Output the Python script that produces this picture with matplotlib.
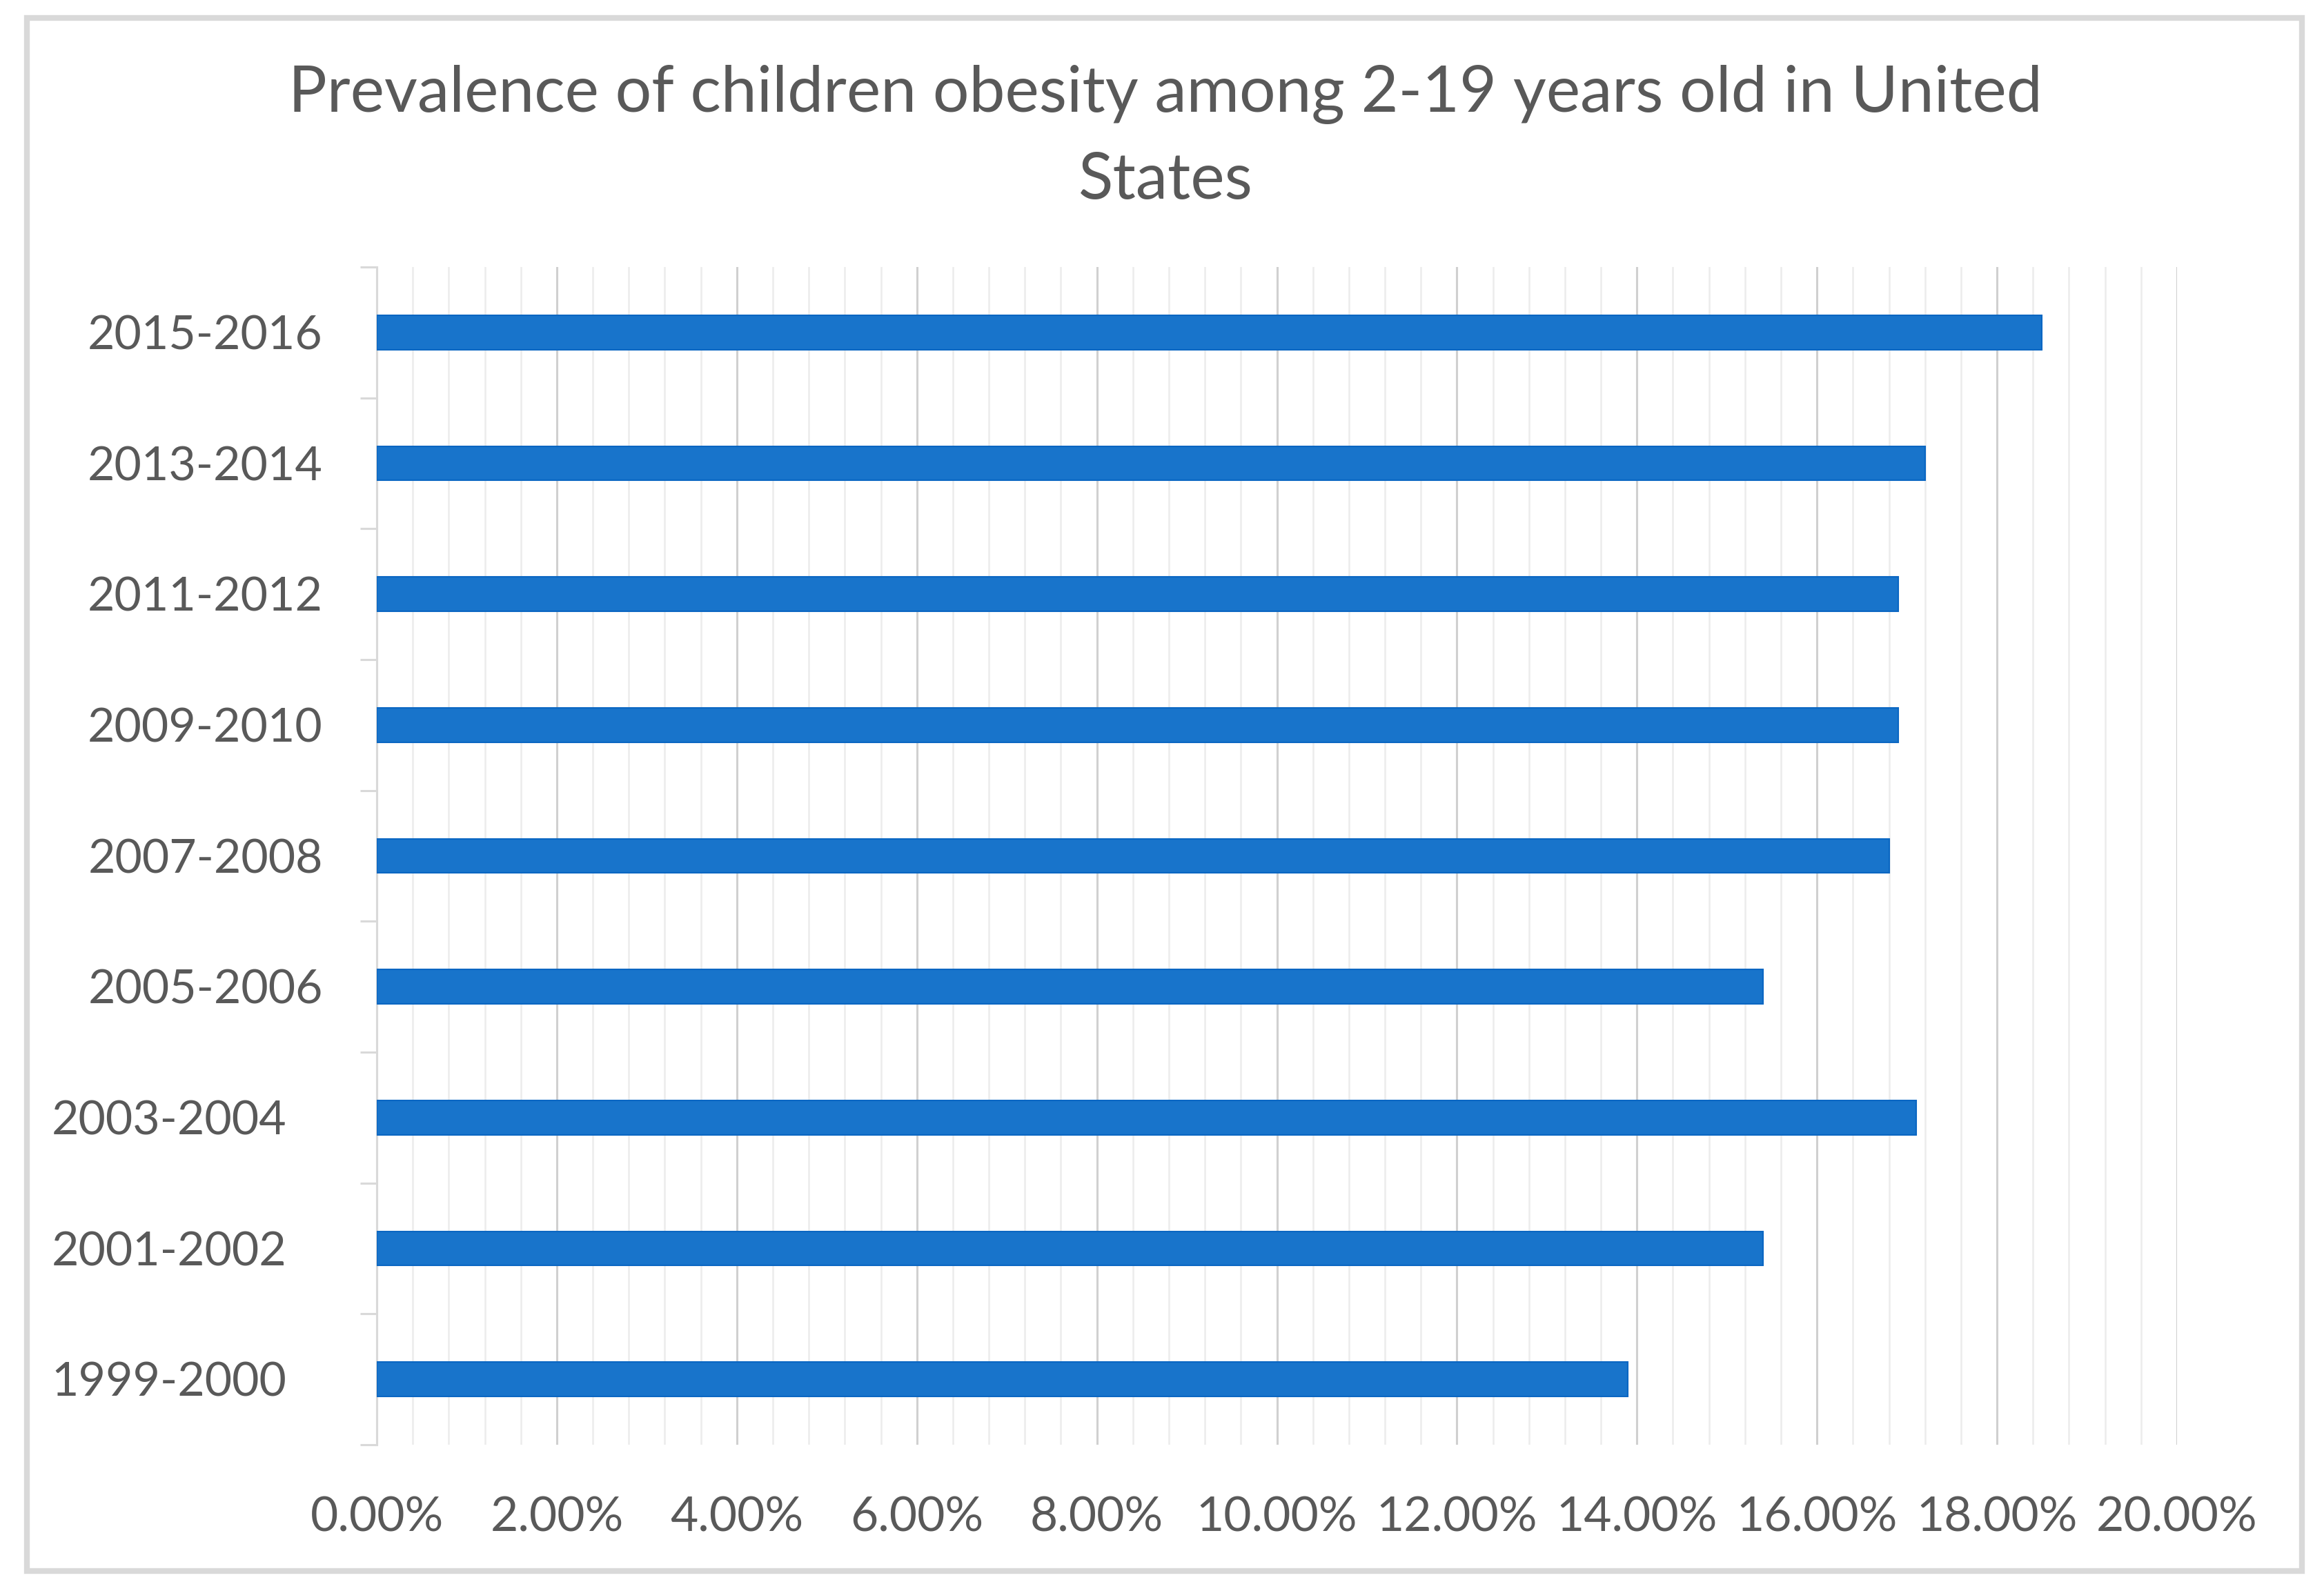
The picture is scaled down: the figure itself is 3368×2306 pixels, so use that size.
import matplotlib
matplotlib.use("Agg")
import matplotlib.pyplot as plt
from matplotlib.patches import Rectangle
from matplotlib.ticker import MultipleLocator, FuncFormatter

plt.rcParams['font.family'] = ['Lato', 'DejaVu Sans']

categories = ["1999-2000", "2001-2002", "2003-2004", "2005-2006", "2007-2008",
              "2009-2010", "2011-2012", "2013-2014", "2015-2016"]
values = [13.9, 15.4, 17.1, 15.4, 16.8, 16.9, 16.9, 17.2, 18.5]
label_shift = [1, 1, 1, 0, 0, 0, 0, 0, 0]
title = "Prevalence of children obesity among 2-19 years old in United\nStates"

TXT = '#595959'
W, H = 3368, 2306
dpi = 100
fig = plt.figure(figsize=(W / dpi, H / dpi), dpi=dpi)
fig.patch.set_facecolor('white')

# outer chart frame
fig.patches.append(Rectangle((39 / W, 1 - 2277 / H), (3336 - 39) / W, (2277 - 26) / H,
                             transform=fig.transFigure, fill=False,
                             edgecolor='#d9d9d9', linewidth=6))

ax = fig.add_axes([546 / W, 1 - 2094 / H, (3155 - 546) / W, (2094 - 387) / H])
ypos = list(range(len(categories)))
ax.barh(ypos, values, height=0.263, color='#1874CB', edgecolor='#0A66C2',
        linewidth=1.5, zorder=3)

ax.set_xlim(0, 20)
ax.set_ylim(-0.5, len(categories) - 0.5)

ax.xaxis.set_major_locator(MultipleLocator(2))
ax.xaxis.set_minor_locator(MultipleLocator(0.4))
ax.xaxis.set_major_formatter(FuncFormatter(lambda v, p: f"{v:.2f}%"))
ax.grid(axis='x', which='major', color='#d0d0d0', linewidth=2.2, zorder=0)
ax.grid(axis='x', which='minor', color='#ececec', linewidth=1.8, zorder=0)
ax.tick_params(axis='x', which='both', length=0, pad=54, labelsize=50, labelcolor=TXT)

for s in ['top', 'right', 'bottom']:
    ax.spines[s].set_visible(False)
ax.spines['left'].set_color('#d9d9d9')
ax.spines['left'].set_linewidth(2.2)

ax.set_yticks(ypos)
ax.set_yticklabels([])
ax.tick_params(axis='y', which='major', length=0)
ax.set_yticks([i - 0.5 for i in range(len(categories) + 1)], minor=True)
ax.tick_params(axis='y', which='minor', length=17, width=2.2, color='#d9d9d9',
               direction='out')

for i, (c, sh) in enumerate(zip(categories, label_shift)):
    xa = -0.0502 if sh else -0.0299
    ax.text(xa, i - 0.03, c, transform=ax.get_yaxis_transform(), ha='right',
            va='center', fontsize=49, color=TXT)

fig.text(0.5015, 1 - 199 / H, title, ha='center', va='center', fontsize=67,
         color=TXT, linespacing=1.6)

fig.savefig("out.png", dpi=dpi, facecolor='white')
